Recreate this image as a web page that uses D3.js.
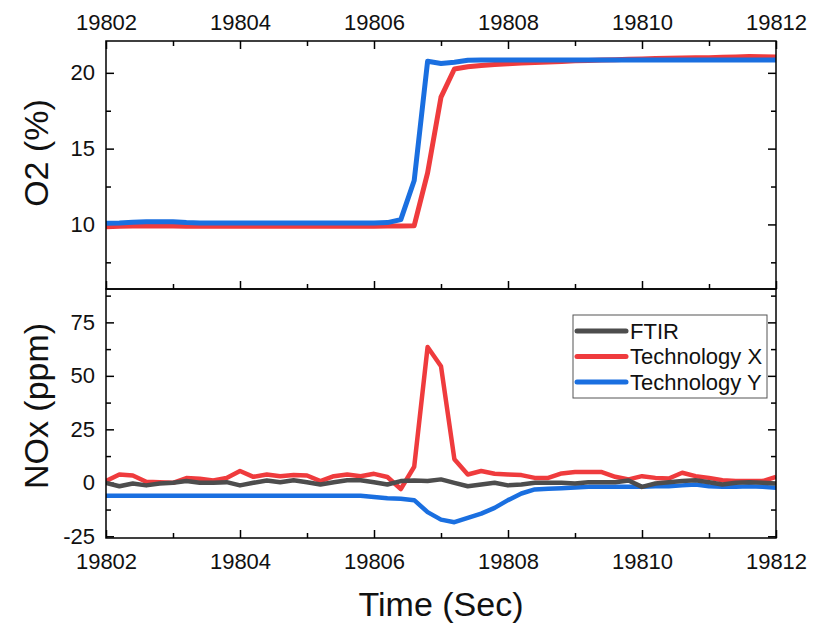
<!DOCTYPE html>
<html>
<head>
<meta charset="utf-8">
<script src="https://cdn.jsdelivr.net/npm/d3@7"></script>
<style>
  body { margin: 0; background: #fff; }
  svg { display: block; font-family: "Liberation Sans", Arial, sans-serif; }
</style>
</head>
<body>
<div id="chart"></div>
<script>
// Sample times (sec), one reading every 0.2 s
var time = [19802, 19802.2, 19802.4, 19802.6, 19802.8, 19803, 19803.2, 19803.4, 19803.6, 19803.8,
    19804, 19804.2, 19804.4, 19804.6, 19804.8, 19805, 19805.2, 19805.4, 19805.6, 19805.8,
    19806, 19806.2, 19806.4, 19806.6, 19806.8, 19807, 19807.2, 19807.4, 19807.6, 19807.8,
    19808, 19808.2, 19808.4, 19808.6, 19808.8, 19809, 19809.2, 19809.4, 19809.6, 19809.8,
    19810, 19810.2, 19810.4, 19810.6, 19810.8, 19811, 19811.2, 19811.4, 19811.6, 19811.8, 19812];

// O2 (%)
var o2TechX = [9.85, 9.88, 9.9, 9.9, 9.9, 9.9, 9.88, 9.88, 9.88, 9.88,
    9.88, 9.88, 9.88, 9.88, 9.88, 9.88, 9.88, 9.88, 9.88, 9.88,
    9.88, 9.9, 9.9, 9.92, 13.4, 18.4, 20.25, 20.4, 20.48, 20.55,
    20.6, 20.65, 20.68, 20.72, 20.75, 20.8, 20.82, 20.85, 20.87, 20.9,
    20.92, 20.94, 20.96, 20.98, 21.0, 21.0, 21.02, 21.05, 21.08, 21.06, 21.04];
var o2TechY = [10.07, 10.1, 10.15, 10.17, 10.17, 10.17, 10.12, 10.1, 10.1, 10.1,
    10.1, 10.1, 10.1, 10.1, 10.1, 10.1, 10.1, 10.1, 10.1, 10.1,
    10.1, 10.12, 10.32, 12.9, 20.77, 20.62, 20.7, 20.83, 20.84, 20.84,
    20.84, 20.84, 20.84, 20.84, 20.84, 20.84, 20.84, 20.84, 20.84, 20.84,
    20.84, 20.84, 20.84, 20.84, 20.84, 20.84, 20.84, 20.84, 20.84, 20.84, 20.84];

// NOx (ppm)
var noxFTIR = [0, -1.6, -0.3, -1.2, -0.3, 0, 0.8, 0, 0, 0.3,
    -1.2, 0, 1.1, 0.3, 1.2, 0.3, -0.8, 0.3, 1.2, 1.2,
    0.3, -0.8, 0.8, 1.1, 0.8, 1.6, 0, -1.6, -0.8, 0,
    -1.2, -0.8, 0, 0, 0, -0.3, 0.3, 0.3, 0.3, 1.1,
    -1.9, -0.3, 0.3, 0.8, 1.2, 0.3, -0.8, 0, 0.3, 0, -0.3];
var noxTechX = [0.8, 3.9, 3.4, 0.5, 0.3, 0, 2.2, 1.9, 1.1, 2.3,
    5.5, 2.8, 3.9, 3.1, 3.7, 3.4, 0.8, 3.1, 3.9, 3.1,
    4.2, 2.7, -2.9, 7.5, 63.5, 54.5, 11, 3.9, 5.5, 4.2,
    3.9, 3.6, 2.3, 2.3, 4.4, 5, 5, 5, 2.8, 1.6,
    3.1, 2.3, 2, 4.7, 3.1, 2.3, 1.2, 0.8, 0.8, 0.8, 2.8];
var noxTechY = [-6, -6, -6, -6, -6, -6, -6, -6, -6, -6,
    -6, -6, -6, -6, -6, -6, -6, -6, -6, -6,
    -6.6, -7.2, -7.5, -8.1, -13.7, -17.2, -18.4, -16.4, -14.4, -11.7,
    -8.1, -5, -3.1, -2.8, -2.5, -2.2, -1.9, -1.9, -1.9, -1.9,
    -1.9, -1.6, -1.6, -1.2, -0.8, -1.6, -1.9, -1.9, -1.6, -1.9, -2.3];

var xTicks = [19802, 19804, 19806, 19808, 19810, 19812],
    xMinor = [19803, 19805, 19807, 19809, 19811];
var o2Ticks = [10, 15, 20], o2Minor = [7.5, 12.5, 17.5];
var noxTicks = [-25, 0, 25, 50, 75], noxMinor = [-12.5, 12.5, 37.5, 62.5, 87.5];

var legendNames = ['FTIR', 'Technology X', 'Technology Y'];
var colors = {gray: '#4d4d4d', red: '#ef3b3d', blue: '#1a6fe0'};

(function() {
    var width = 815, height = 627;
    var left = 106, right = 776,
        top1 = 41, mid = 289, bottom2 = 538;

    var svg = d3.select('#chart').append('svg')
        .attr('width', width).attr('height', height);

    var x = d3.scaleLinear().domain([19802, 19812]).range([left, right]);
    var yO2 = d3.scaleLinear().domain([5.74, 22.1]).range([mid, top1]);
    var yNox = d3.scaleLinear().domain([-25.8, 90.6]).range([bottom2, mid]);

    // plain numbers: no thousands comma, ASCII minus
    var plain = function(d) { return String(d); };

    function styleAxis(g) {
        g.select('.domain').remove();
        g.selectAll('line').attr('stroke', '#000').attr('stroke-width', 1.5);
        g.selectAll('text').attr('fill', '#111').style('font-size', '22px');
    }

    // Draw one set of major + minor inward ticks
    function ticks(axisFn, scale, major, minor, labels, transform, pad) {
        var a = axisFn(scale).tickValues(major).tickSize(-8).tickPadding(pad || 11)
            .tickFormat(labels ? plain : '');
        svg.append('g').attr('transform', transform).call(a).call(styleAxis);
        var m = axisFn(scale).tickValues(minor).tickSize(-5).tickFormat('');
        svg.append('g').attr('transform', transform).call(m).call(styleAxis);
    }

    // Upper panel
    ticks(d3.axisTop, x, xTicks, xMinor, true, 'translate(0,' + top1 + ')');
    ticks(d3.axisBottom, x, xTicks, xMinor, false, 'translate(0,' + mid + ')');
    ticks(d3.axisLeft, yO2, o2Ticks, o2Minor, true, 'translate(' + left + ',0)');
    ticks(d3.axisRight, yO2, o2Ticks, o2Minor, false, 'translate(' + right + ',0)');

    // Lower panel
    ticks(d3.axisBottom, x, xTicks, xMinor, true, 'translate(0,' + bottom2 + ')', 15);
    ticks(d3.axisLeft, yNox, noxTicks, noxMinor, true, 'translate(' + left + ',0)');
    ticks(d3.axisRight, yNox, noxTicks, noxMinor, false, 'translate(' + right + ',0)');

    svg.append('clipPath').attr('id', 'c1').append('rect')
        .attr('x', left).attr('y', top1).attr('width', right - left).attr('height', mid - top1);
    svg.append('clipPath').attr('id', 'c2').append('rect')
        .attr('x', left).attr('y', mid).attr('width', right - left).attr('height', bottom2 - mid);

    function drawLine(values, yScale, color, clip, w) {
        var line = d3.line()
            .x(function(d, i) { return x(time[i]); })
            .y(function(d) { return yScale(d); });
        svg.append('path')
            .datum(values)
            .attr('clip-path', 'url(#' + clip + ')')
            .attr('fill', 'none')
            .attr('stroke', color)
            .attr('stroke-width', w)
            .attr('stroke-linejoin', 'round')
            .attr('d', line);
    }

    drawLine(o2TechX, yO2, colors.red, 'c1', 5);
    drawLine(o2TechY, yO2, colors.blue, 'c1', 5);

    drawLine(noxTechY, yNox, colors.blue, 'c2', 4.5);
    drawLine(noxTechX, yNox, colors.red, 'c2', 4.5);
    drawLine(noxFTIR, yNox, colors.gray, 'c2', 4.5);

    // Frames
    svg.append('rect').attr('x', left).attr('y', top1)
        .attr('width', right - left).attr('height', mid - top1)
        .attr('fill', 'none').attr('stroke', '#000').attr('stroke-width', 1.5);
    svg.append('rect').attr('x', left).attr('y', mid)
        .attr('width', right - left).attr('height', bottom2 - mid)
        .attr('fill', 'none').attr('stroke', '#000').attr('stroke-width', 1.5);

    // Axis titles
    svg.append('text')
        .attr('transform', 'translate(36,153) rotate(-90)')
        .attr('text-anchor', 'middle').attr('dy', '0.35em')
        .style('font-size', '34px').attr('fill', '#111')
        .text('O2 (%)');
    svg.append('text')
        .attr('transform', 'translate(36,406) rotate(-90)')
        .attr('text-anchor', 'middle').attr('dy', '0.35em')
        .style('font-size', '34px').attr('fill', '#111')
        .text('NOx (ppm)');
    svg.append('text')
        .attr('x', (left + right) / 2).attr('y', 616)
        .attr('text-anchor', 'middle')
        .style('font-size', '34px').attr('fill', '#111')
        .text('Time (Sec)');

    // Legend
    var lg = svg.append('g').attr('transform', 'translate(573,315)');
    lg.append('rect').attr('width', 194).attr('height', 83)
        .attr('fill', '#fff').attr('stroke', '#555').attr('stroke-width', 1);
    var legendColors = [colors.gray, colors.red, colors.blue];
    legendNames.forEach(function(name, i) {
        var yy = 16 + i * 25.5;
        lg.append('line')
            .attr('x1', 4).attr('x2', 53).attr('y1', yy).attr('y2', yy)
            .attr('stroke', legendColors[i]).attr('stroke-width', 5)
            .attr('stroke-linecap', 'round');
        lg.append('text')
            .attr('x', 57).attr('y', yy).attr('dy', '0.35em')
            .style('font-size', '22px').attr('fill', '#111')
            .text(name);
    });
}());
</script>
</body>
</html>
